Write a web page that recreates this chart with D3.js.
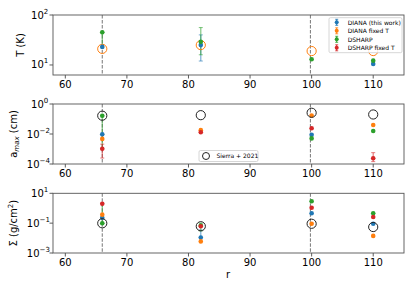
<!DOCTYPE html>
<html>
<head>
<meta charset="utf-8">
<script src="https://cdn.jsdelivr.net/npm/d3@7"></script>
<style>
  body { margin: 0; background: #fff; }
  text { font-family: "DejaVu Sans", sans-serif; fill: #000; }
</style>
</head>
<body>
<div id="chart"></div>
<script>
// radii of the rings
const radii = [66, 82, 100, 110];
const gaps = [66, 99.8];
const xTicks = [60, 70, 80, 90, 100, 110];

// temperature panel
const tDiana = [23, 25, null, 10.5];
const tFixed = [21, 25, 19, 19];
const tDsharp = [45, 29, 13, 12.2];
const tDianaErr = [null, [12, 40], null, null];
const tDsharpErr = [[23, 45], [16, 56], null, null];

// a_max panel
const aDiana = [0.0095, null, 0.009, null];
const aFixed = [0.0047, 0.018, 0.17, 0.04];
const aDsharp = [0.166, null, 0.0051, 0.016];
const aDsharpFixed = [0.00105, 0.013, 0.024, 0.00024];
const aSierra = [0.166, 0.18, 0.26, 0.2];
const aDsharpErr = [[0.001, 0.166], null, null, null];
const aDsharpFixedErr = [[0.00025, 0.0021], null, null, [0.000144, 0.00057]];

// surface density panel
const sDiana = [0.23, 0.011, 0.46, 0.091];
const sFixed = [0.37, 0.006, 0.091, 0.014];
const sDsharp = [0.098, 0.07, 2.9, 0.46];
const sDsharpFixed = [2.0, 0.062, 1.08, 0.26];
const sSierra = [0.098, 0.062, 0.091, 0.055];
const sDianaErr = [null, [0.011, 0.035], null, null];
const sDsharpErr = [[0.098, 2.0], [0.03, 0.1], null, null];

const legendNames = ["DIANA (this work)", "DIANA fixed T", "DSHARP", "DSHARP fixed T"];
const colors = ["#1f77b4", "#ff7f0e", "#2ca02c", "#d62728"];

const W = 415, H = 291;
const svg = d3.select("#chart").append("svg")
  .attr("width", W).attr("height", H);

const x = d3.scaleLinear().domain([58, 115]).range([53, 404]);

const panels = [
  {top: 15, bottom: 75, domain: [6.3, 100], ticks: [1, 2], label: "T (K)", lx: 24},
  {top: 104, bottom: 164, domain: [1e-4, 1], ticks: [-4, -2, 0], label: "amax", lx: 17},
  {top: 193.3, bottom: 253, domain: [1e-3, 10], ticks: [-3, -1, 1], label: "sigma", lx: 17}
];

panels.forEach(p => {
  p.y = d3.scaleLog().domain(p.domain).range([p.bottom, p.top]);
  const g = svg.append("g");
  p.g = g;

  // dashed gap lines
  gaps.forEach(r => {
    g.append("line")
      .attr("x1", x(r)).attr("x2", x(r))
      .attr("y1", p.top).attr("y2", p.bottom)
      .attr("stroke", "#777").attr("stroke-width", 1)
      .attr("stroke-dasharray", "3.5,1.5");
  });

  // x ticks
  xTicks.forEach(t => {
    g.append("line").attr("x1", x(t)).attr("x2", x(t))
      .attr("y1", p.bottom).attr("y2", p.bottom + 3.5)
      .attr("stroke", "#333").attr("stroke-width", 0.8);
    g.append("text").attr("x", x(t)).attr("y", p.bottom + 12.5)
      .attr("text-anchor", "middle").attr("font-size", 10).text(t);
  });

  // y ticks (powers of ten)
  p.ticks.forEach(e => {
    const yy = p.y(Math.pow(10, e));
    g.append("line").attr("x1", 53).attr("x2", 49.5)
      .attr("y1", yy).attr("y2", yy)
      .attr("stroke", "#333").attr("stroke-width", 0.8);
    const sup = e < 0 ? "\u2212" + (-e) : String(e);
    const supW = sup.length * 4.2;
    const t = g.append("text").attr("x", 48 - supW).attr("y", yy + 3.5)
      .attr("text-anchor", "end").attr("font-size", 10).text("10");
    g.append("text").attr("x", 48 - supW).attr("y", yy - 1.5)
      .attr("font-size", 7).text(sup);
  });

  // y label
  const lab = g.append("text")
    .attr("transform", `translate(${p.lx},${(p.top + p.bottom) / 2}) rotate(-90)`)
    .attr("text-anchor", "middle").attr("font-size", 10);
  if (p.label === "amax") {
    lab.append("tspan").text("a");
    lab.append("tspan").attr("font-size", 7).attr("font-style", "italic").attr("dy", 2).text("max");
    lab.append("tspan").attr("dy", -2).text(" (cm)");
  } else if (p.label === "sigma") {
    lab.append("tspan").text("\u03a3 (g/cm");
    lab.append("tspan").attr("font-size", 7).attr("dy", -4).text("2");
    lab.append("tspan").attr("dy", 4).text(")");
  } else {
    lab.text(p.label);
  }
});

function errorBars(p, vals, errs, color) {
  radii.forEach((r, i) => {
    const e = errs[i];
    if (!e) return;
    const cx = x(r);
    p.g.append("line").attr("x1", cx).attr("x2", cx)
      .attr("y1", p.y(e[0])).attr("y2", p.y(e[1]))
      .attr("stroke", color).attr("stroke-opacity", 0.6).attr("stroke-width", 1.2);
    e.forEach(v => {
      p.g.append("line").attr("x1", cx - 2).attr("x2", cx + 2)
        .attr("y1", p.y(v)).attr("y2", p.y(v))
        .attr("stroke", color).attr("stroke-opacity", 0.6).attr("stroke-width", 1);
    });
  });
}

function dots(p, vals, color) {
  p.g.selectAll(null)
    .data(radii.map((r, i) => [r, vals[i]]).filter(d => d[1] != null))
    .join("circle")
    .attr("cx", d => x(d[0])).attr("cy", d => p.y(d[1]))
    .attr("r", 2.3).attr("fill", color);
}

function rings(p, vals, color) {
  p.g.selectAll(null)
    .data(radii.map((r, i) => [r, vals[i]]).filter(d => d[1] != null))
    .join("circle")
    .attr("cx", d => x(d[0])).attr("cy", d => p.y(d[1]))
    .attr("r", 4.6).attr("fill", "none")
    .attr("stroke", color).attr("stroke-width", 1);
}

// top panel: T
const pT = panels[0];
errorBars(pT, tDiana, tDianaErr, colors[0]);
errorBars(pT, tDsharp, tDsharpErr, colors[2]);
rings(pT, tFixed, colors[1]);
dots(pT, tDiana, colors[0]);
dots(pT, tDsharp, colors[2]);

// middle panel: a_max
const pA = panels[1];
errorBars(pA, aDsharp, aDsharpErr, colors[2]);
errorBars(pA, aDsharpFixed, aDsharpFixedErr, colors[3]);
dots(pA, aDiana, colors[0]);
dots(pA, aFixed, colors[1]);
dots(pA, aDsharp, colors[2]);
dots(pA, aDsharpFixed, colors[3]);
rings(pA, aSierra, "#222");

// bottom panel: Sigma
const pS = panels[2];
errorBars(pS, sDiana, sDianaErr, colors[0]);
errorBars(pS, sDsharp, sDsharpErr, colors[2]);
dots(pS, sDiana, colors[0]);
dots(pS, sFixed, colors[1]);
dots(pS, sDsharp, colors[2]);
dots(pS, sDsharpFixed, colors[3]);
rings(pS, sSierra, "#222");

// frames
panels.forEach(p => {
  p.g.append("rect").attr("x", 53).attr("y", p.top)
    .attr("width", 404 - 53).attr("height", p.bottom - p.top)
    .attr("fill", "none").attr("stroke", "#555").attr("stroke-width", 0.9);
});

// legend, top panel
const lg = svg.append("g");
lg.append("rect").attr("x", 329).attr("y", 17.7).attr("width", 73).attr("height", 35)
  .attr("rx", 1.5).attr("fill", "#fff").attr("fill-opacity", 0.85)
  .attr("stroke", "#ccc").attr("stroke-width", 0.8);
legendNames.forEach((n, i) => {
  const yy = 22.3 + i * 8.5;
  lg.append("line").attr("x1", 336.7).attr("x2", 336.7).attr("y1", yy - 3).attr("y2", yy + 3)
    .attr("stroke", colors[i]).attr("stroke-width", 1);
  [yy - 3, yy + 3].forEach(v => lg.append("line").attr("x1", 335.2).attr("x2", 338.2)
    .attr("y1", v).attr("y2", v).attr("stroke", colors[i]).attr("stroke-width", 0.8));
  lg.append("circle").attr("cx", 336.7).attr("cy", yy).attr("r", 2).attr("fill", colors[i]);
  lg.append("text").attr("x", 347.7).attr("y", yy + 2.2).attr("font-size", 6).text(n);
});

// legend, middle panel
const lg2 = svg.append("g");
lg2.append("rect").attr("x", 199).attr("y", 150.5).attr("width", 59).attr("height", 11)
  .attr("rx", 1.5).attr("fill", "#fff").attr("fill-opacity", 0.85)
  .attr("stroke", "#ccc").attr("stroke-width", 0.8);
lg2.append("circle").attr("cx", 206).attr("cy", 156).attr("r", 3.5)
  .attr("fill", "none").attr("stroke", "#222").attr("stroke-width", 1);
lg2.append("text").attr("x", 216.5).attr("y", 158.2).attr("font-size", 6).text("Sierra + 2021");

// x label
svg.append("text").attr("x", 228).attr("y", 277.5).attr("text-anchor", "middle")
  .attr("font-size", 10).text("r");
</script>
</body>
</html>
